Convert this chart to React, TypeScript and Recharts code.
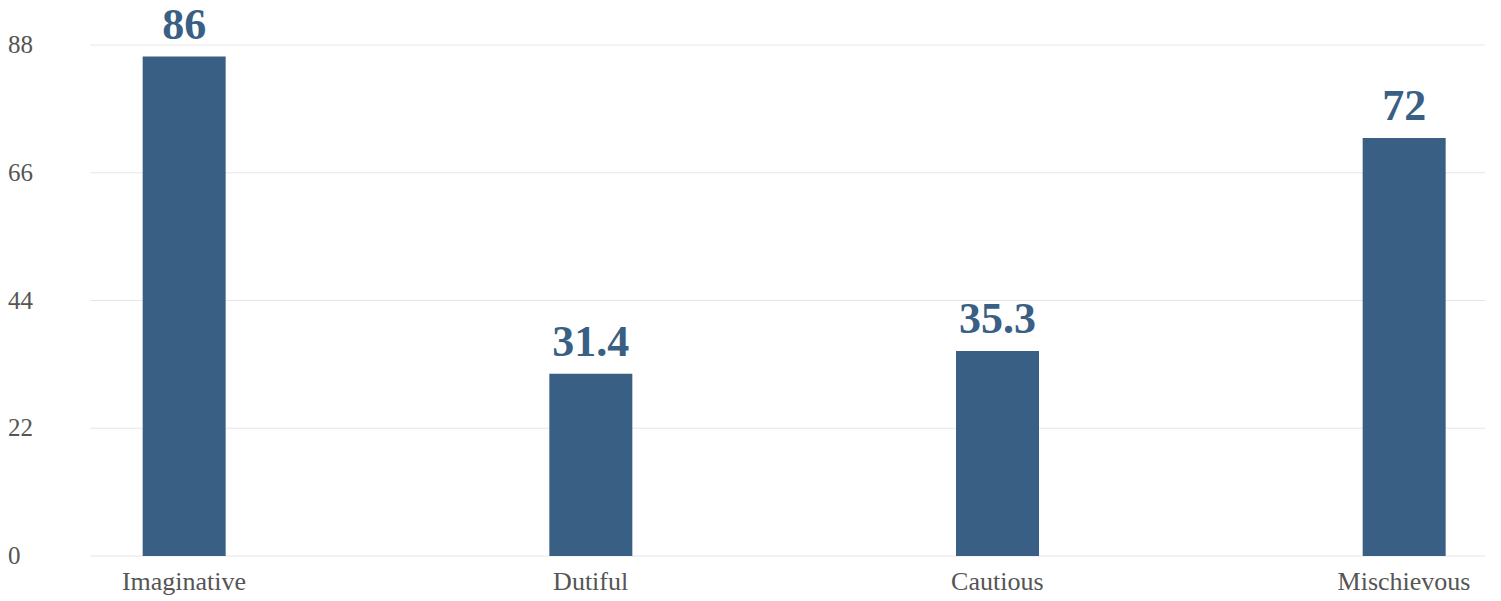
import React from 'react';
import { BarChart, Bar, XAxis, YAxis, CartesianGrid, LabelList } from 'recharts';

const categories = ['Imaginative', 'Dutiful', 'Cautious', 'Mischievous'];
const scores = [86, 31.4, 35.3, 72];
const yTicks = [0, 22, 44, 66, 88];

const data = categories.map((name, i) => ({ name, score: scores[i] }));

const FONT = '"Liberation Serif", "DejaVu Serif", serif';
const BLUE = '#3a5f85';

const YTick = (props: any) => {
  const { y, payload } = props;
  return (
    <text x={8} y={y} dy={8} textAnchor="start" fill="#555" fontSize={25} fontFamily={FONT}>
      {payload.value}
    </text>
  );
};

export default function App() {
  return (
    <div style={{ position: 'absolute', left: 0, top: 0, background: '#fff' }}>
      <BarChart
        width={1501}
        height={601}
        data={data}
        margin={{ top: 45, right: 16, left: 0, bottom: 0 }}
      >
        <CartesianGrid vertical={false} stroke="#e6e6e6" />
        <XAxis
          dataKey="name"
          scale="point"
          height={45}
          padding={{ left: 94, right: 81 }}
          axisLine={false}
          tickLine={false}
          tick={{ fill: '#555', fontSize: 26, fontFamily: FONT }}
          tickMargin={10}
          interval={0}
        />
        <YAxis
          width={90}
          domain={[0, 88]}
          ticks={yTicks}
          axisLine={false}
          tickLine={false}
          tick={<YTick />}
          interval={0}
        />
        <Bar dataKey="score" fill={BLUE} barSize={83} isAnimationActive={false}>
          <LabelList
            dataKey="score"
            position="top"
            offset={18}
            fill={BLUE}
            fontSize={44}
            fontWeight="bold"
            fontFamily={FONT}
          />
        </Bar>
      </BarChart>
    </div>
  );
}
